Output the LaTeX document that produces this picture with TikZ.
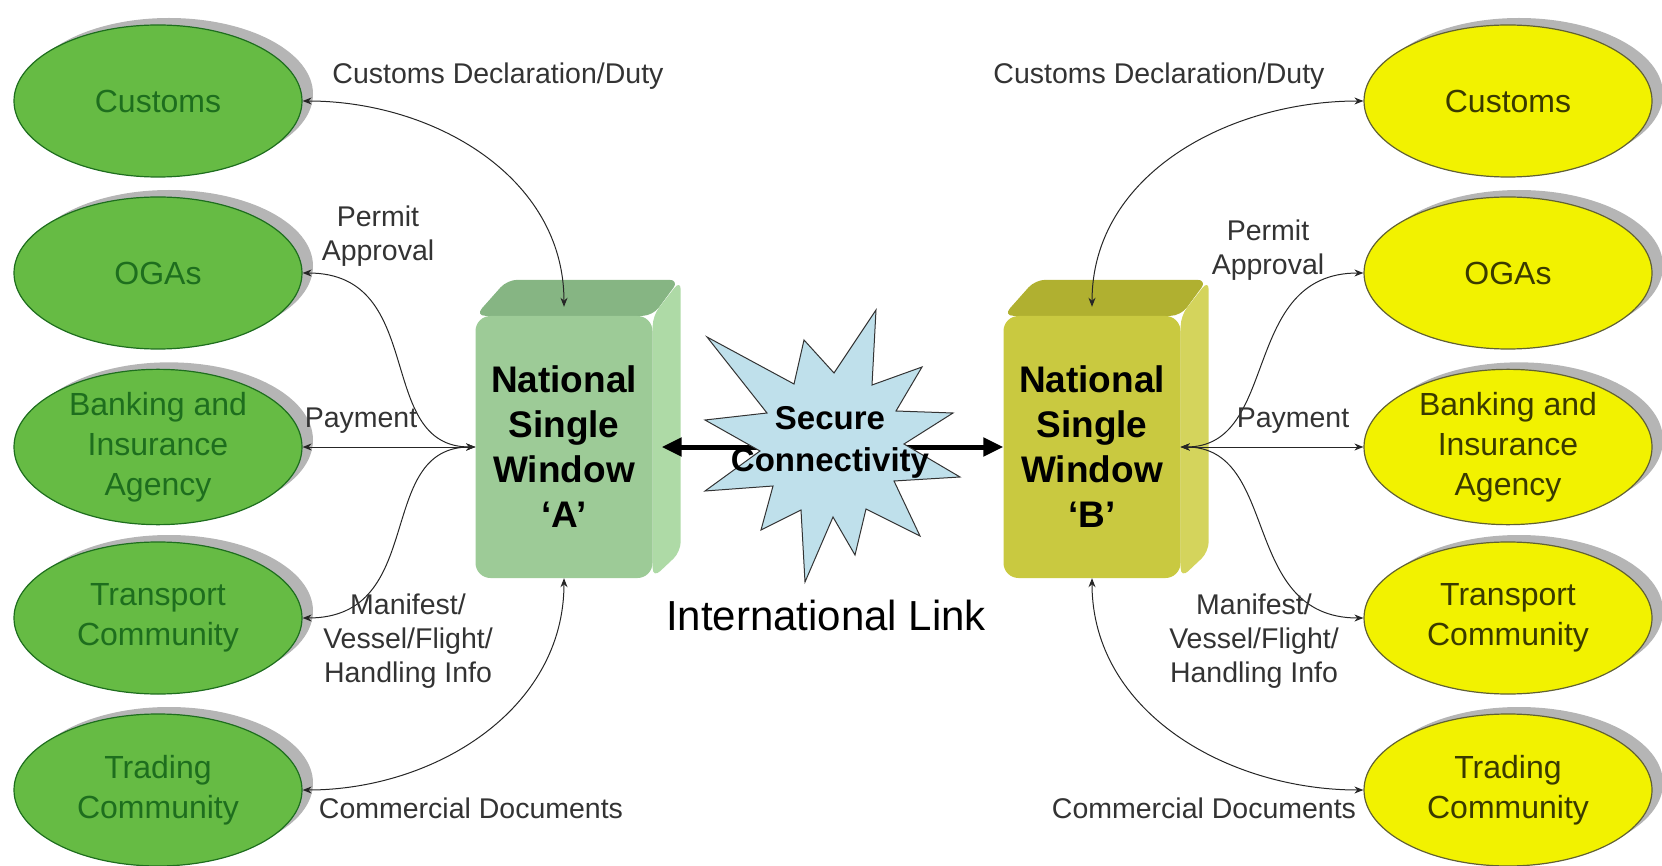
\documentclass[tikz,border=0pt]{standalone}
\usepackage{fontspec}
\setmainfont{Liberation Sans}
\usetikzlibrary{shapes.geometric,shadows,arrows.meta,backgrounds}
\definecolor{agencyGreen}{HTML}{66BB44}
\definecolor{agencyGreenDark}{HTML}{1E6E1E}
\definecolor{agencyYellow}{HTML}{F2F200}
\definecolor{agencyYellowDark}{HTML}{3A3A00}
\definecolor{shadowGray}{HTML}{B5B5B5}
\definecolor{nswAFront}{HTML}{9DCB97}
\definecolor{nswATop}{HTML}{86B583}
\definecolor{nswASide}{HTML}{AEDAA6}
\definecolor{nswBFront}{HTML}{C9C940}
\definecolor{nswBTop}{HTML}{B0B030}
\definecolor{nswBSide}{HTML}{D4D45C}
\definecolor{linkBlue}{HTML}{BFE0EB}

\begin{document}
\begin{tikzpicture}[x=1pt, y=-1pt,
    agency/.style = {ellipse, draw, line width=1.2pt, minimum width=288pt, minimum height=152pt, inner sep=0pt, align=center,
      font=\fontsize{32}{40}\selectfont, general shadow={shadow xshift=11pt, shadow yshift=7pt, fill=shadowGray}},
    agencyA/.style = {agency, fill=agencyGreen, draw=agencyGreenDark, text=agencyGreenDark},
    agencyB/.style = {agency, fill=agencyYellow, draw=agencyYellowDark!80, text=agencyYellowDark},
    nsw/.style = {rounded corners=15pt, minimum width=177pt, minimum height=262pt, align=center,
      font=\fontsize{37}{45}\selectfont\bfseries},
    flow/.style = {{Stealth[length=9pt,width=7pt]}-{Stealth[length=9pt,width=7pt]}, line width=1pt, draw=black!85},
    lbl/.style = {align=center, font=\fontsize{28.5}{34}\selectfont, text=black!80}]
  \useasboundingbox (0,0) rectangle (1662,866);

  \node[nsw, fill=nswAFront] (nswA) at (564,447) {National\\Single\\Window\\‘A’};
  \node[nsw, fill=nswBFront] (nswB) at (1092,447) {National\\Single\\Window\\‘B’};
  \begin{scope}[on background layer, rounded corners=10pt]
    \fill[nswATop] (nswA.north west) -- ++(32,-36) -- ++(172,0) -- (nswA.north east) -- cycle;
    \fill[nswASide] (nswA.north east) -- ++(28,-36) -- ++(0,272) -- (nswA.south east) -- cycle;
    \fill[nswBTop] (nswB.north west) -- ++(32,-36) -- ++(172,0) -- (nswB.north east) -- cycle;
    \fill[nswBSide] (nswB.north east) -- ++(28,-36) -- ++(0,272) -- (nswB.south east) -- cycle;
  \end{scope}

  \draw[line width=5pt, {Triangle[length=20pt,width=18pt]}-{Triangle[length=20pt,width=18pt]}] ([xshift=9pt]nswA.east) -- (nswB.west);
  \filldraw[fill=linkBlue, draw=black!80, line width=1pt]
    (876,310) -- (872,385) -- (922,367) -- (896,411) -- (953,413) -- (904,444) -- (960,477) -- (894,481)
    -- (920,536) -- (866,509) -- (855,555) -- (833,517) -- (805,582) -- (801,510) -- (761,530) -- (773,486)
    -- (705,491) -- (760,451) -- (705,420) -- (767,413) -- (707,337) -- (794,384) -- (804,340) -- (834,373) -- cycle;
  \node[font=\fontsize{33}{42}\selectfont\bfseries, align=center] (link) at (830,442) {Secure\\Connectivity};
  \node[font=\fontsize{42}{50}\selectfont] (intl) at (826,615) {International Link};

  \node[agencyA] (custA) at (158,101) {Customs};
  \node[agencyA] (ogaA) at (158,273) {OGAs};
  \node[agencyA] (bankA) at (158,447) {Banking and\\Insurance\\Agency};
  \node[agencyA] (transA) at (158,618) {Transport\\Community};
  \node[agencyA] (tradeA) at (158,790) {Trading\\Community};
  \node[agencyB] (custB) at (1508,101) {Customs};
  \node[agencyB] (ogaB) at (1508,273) {OGAs};
  \node[agencyB] (bankB) at (1508,447) {Banking and\\Insurance\\Agency};
  \node[agencyB] (transB) at (1508,618) {Transport\\Community};
  \node[agencyB] (tradeB) at (1508,790) {Trading\\Community};

  \draw[flow] (custA.east) to[out=0, in=90] ([yshift=9pt]nswA.north);
  \draw[flow] (ogaA.east) .. controls +(126,0) and +(-102,0) .. (nswA.west);
  \draw[flow] (bankA.east) -- (nswA.west);
  \draw[flow] (nswA.west) .. controls +(-102,0) and +(126,0) .. (transA.east);
  \draw[flow] (tradeA.east) to[out=0, in=-90] (nswA.south);
  \draw[flow] ([yshift=9pt]nswB.north) to[out=90, in=180] (custB.west);
  \draw[flow] (nswB.east) .. controls +(100,0) and +(-124,0) .. (ogaB.west);
  \draw[flow] (nswB.east) -- (bankB.west);
  \draw[flow] (nswB.east) .. controls +(100,0) and +(-124,0) .. (transB.west);
  \draw[flow] (nswB.south) to[out=-90, in=180] (tradeB.west);

  \node[lbl] (dutyA) at (498,76) {Customs Declaration/Duty};
  \node[lbl] (permitA) at (378,236) {Permit\\Approval};
  \node[lbl] (payA) at (361,421) {Payment};
  \node[lbl] (manifestA) at (408,641) {Manifest/\\Vessel/Flight/\\Handling Info};
  \node[lbl] (docsA) at (471,808) {Commercial Documents};
  \node[lbl] (dutyB) at (1159,76) {Customs Declaration/Duty};
  \node[lbl] (permitB) at (1268,250) {Permit\\Approval};
  \node[lbl] (payB) at (1293,421) {Payment};
  \node[lbl] (manifestB) at (1254,641) {Manifest/\\Vessel/Flight/\\Handling Info};
  \node[lbl] (docsB) at (1204,808) {Commercial Documents};
\end{tikzpicture}
\end{document}
